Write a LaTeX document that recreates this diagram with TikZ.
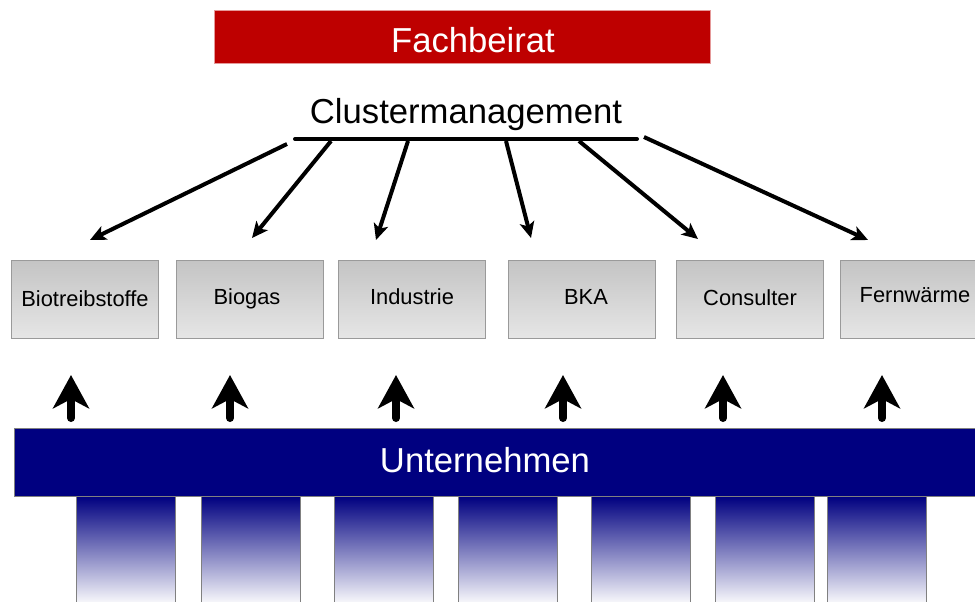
\documentclass[tikz,border=0pt]{standalone}
\usepackage{fontspec}
\setmainfont{Liberation Sans}
\usetikzlibrary{arrows.meta}
\definecolor{boardred}{HTML}{BE0000}
\definecolor{navybar}{HTML}{000080}
\definecolor{boxedge}{HTML}{9A9A9A}
\definecolor{boxtop}{HTML}{C4C4C4}
\definecolor{boxbot}{HTML}{E6E6E6}
\begin{document}
\begin{tikzpicture}[x=0.75pt,y=-0.75pt,
  bigtext/.style={font=\fontsize{26}{30}\selectfont, inner sep=0pt, anchor=base},
  fieldbox/.style={draw=boxedge, line width=0.8pt, top color=boxtop, bottom color=boxbot,
    minimum width=110.25pt, minimum height=58.5pt, inner sep=0pt, anchor=north west},
  fieldlabel/.style={font=\fontsize{16.4}{19}\selectfont, inner sep=0pt, anchor=base},
  column/.style={draw=gray, line width=0.6pt, top color=navybar, bottom color=white,
    minimum width=74pt, minimum height=82pt, inner sep=0pt, anchor=north west},
  branch/.style={line width=3pt, -{Stealth[length=12pt, width=11pt, inset=3pt]}},
  uparrow/.style={line width=6pt, line cap=round, -{Stealth[length=25pt, width=27pt, inset=7pt]}}
]
\useasboundingbox (0,0) rectangle (975,601);
\clip (0,0) rectangle (975,601);

% advisory board
\node[fill=boardred, draw=boardred!40, line width=0.5pt, minimum width=372pt, minimum height=39.75pt,
  inner sep=0pt, anchor=north west] (fachbar) at (214,10) {};
\node[bigtext, text=white] (fach) at (473,52) {Fachbeirat};

% cluster management and its bar
\node[bigtext] (cm) at (466,123) {Clustermanagement};
\coordinate (barL) at (295,139);
\coordinate (barR) at (637,139);
\draw[line width=3pt, line cap=round] (barL) -- (barR);

% fields
\node[fieldbox] (f1) at (11,260) {};
\node[fieldbox] (f2) at (176,260) {};
\node[fieldbox] (f3) at (338,260) {};
\node[fieldbox] (f4) at (508,260) {};
\node[fieldbox] (f5) at (676,260) {};
\node[fieldbox] (f6) at (840,260) {};
\node[fieldlabel] (l1) at (85,306) {Biotreibstoffe};
\node[fieldlabel] (l2) at (247,304) {Biogas};
\node[fieldlabel] (l3) at (412,304) {Industrie};
\node[fieldlabel] (l4) at (586,304) {BKA};
\node[fieldlabel] (l5) at (750,305) {Consulter};
\node[fieldlabel] (l6) at (915,302) {Fernwärme};

% branches from the management bar
\coordinate (s1) at (287,144); \coordinate (e1) at (90,240);
\coordinate (s2) at (331,141); \coordinate (e2) at (252,238);
\coordinate (s3) at (408,141); \coordinate (e3) at (376,240);
\coordinate (s4) at (506,141); \coordinate (e4) at (531,238);
\coordinate (s5) at (579,141); \coordinate (e5) at (698,239);
\coordinate (s6) at (644,137); \coordinate (e6) at (868,240);
\foreach \i in {1,...,6} \draw[branch] (s\i) -- (e\i);

% companies bar
\node[fill=navybar, draw=gray, line width=0.8pt, minimum width=735pt, minimum height=51pt,
  inner sep=0pt, anchor=north west] (unt) at (14,428) {};
\node[bigtext, text=white] (untlabel) at (485,472) {Unternehmen};

% upward arrows from companies to fields
\foreach \x [count=\i] in {71,230,396,563,723,882} {
  \coordinate (ub\i) at (\x,418);
  \coordinate (ut\i) at (\x,375);
  \draw[uparrow] (ub\i) -- (ut\i);
}

% company columns
\foreach \x [count=\i] in {76,201,334,458,591,715,827}
  \node[column] (c\i) at (\x,496) {};
\end{tikzpicture}
\end{document}
